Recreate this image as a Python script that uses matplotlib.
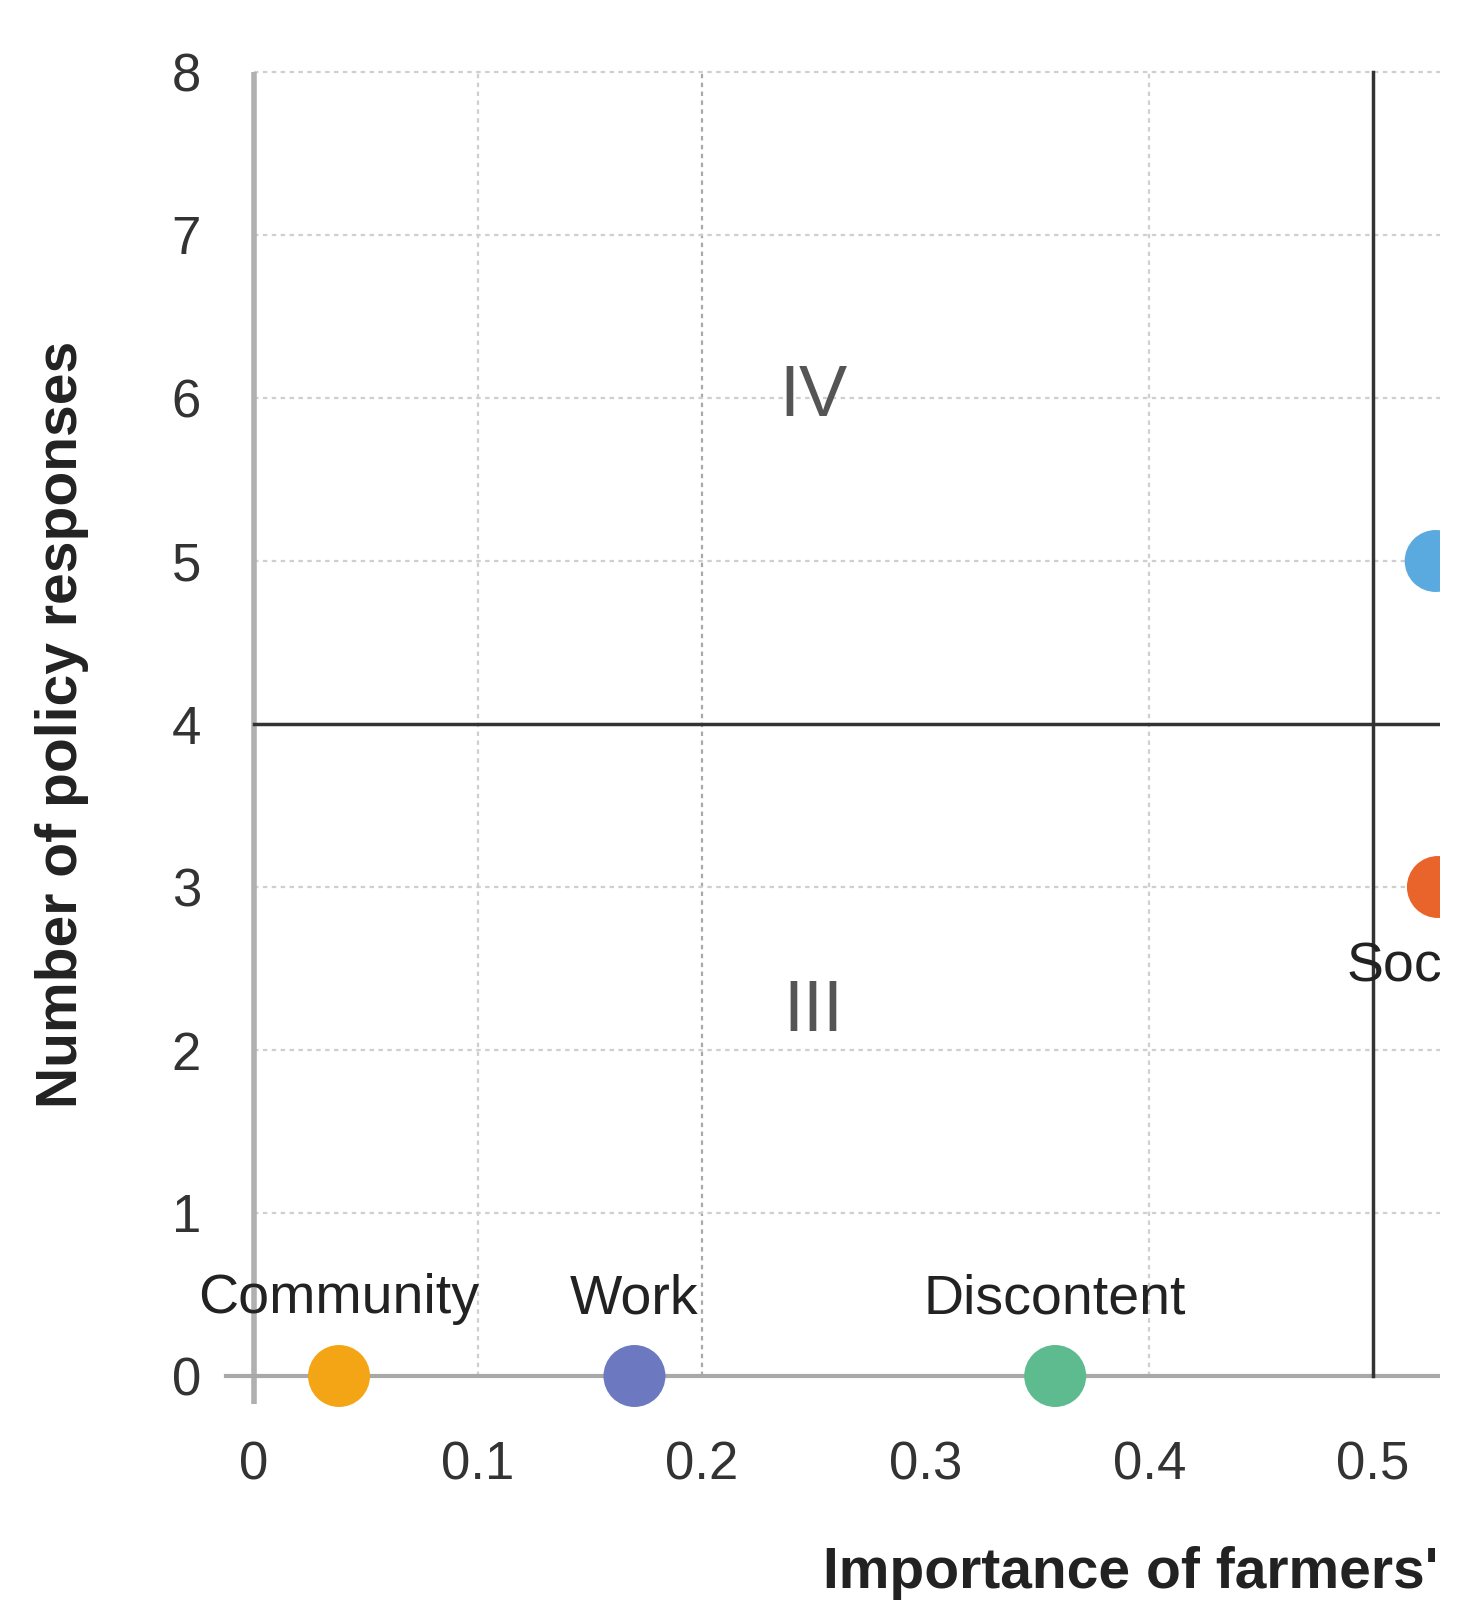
import numpy as np
import matplotlib.pyplot as plt

plt.rcParams['font.family'] = ['Liberation Sans', 'DejaVu Sans']

# data
names = ["Community", "Work", "Discontent", "", "Society"]
importance = [0.038, 0.170, 0.358, 0.528, 0.529]
responses = [0, 0, 0, 5, 3]
colors = ["#F4A516", "#6C79C0", "#5DBB8F", "#5AAAE0", "#E9642B"]
label_pos = ["above", "above", "above", "none", "below"]

x_ticks = [0, 0.1, 0.2, 0.3, 0.4, 0.5]
x_ticklabels = ["0", "0.1", "0.2", "0.3", "0.4", "0.5"]
y_ticks = [0, 1, 2, 3, 4, 5, 6, 7, 8]
x_grid = [0.1, 0.2, 0.4]
y_grid = [1, 2, 3, 5, 6, 7, 8]

W, H = 1460, 1612
fig = plt.figure(figsize=(W / 100, H / 100), dpi=100)

# x=0 at px 254, x=0.5 at px 1373, y=8 at px 72, y=0 at px 1376; picture is cut at px 1440
right_px = 1440
xmin, xmax = -0.02, (right_px - 254) / 2238
ymin, ymax = -0.25, 8.05
left_px = 254 - 0.02 * 2238
top_px = 72 - 0.05 * 163
bot_px = 1376 + 0.25 * 163
ax = fig.add_axes([left_px / W, (H - bot_px) / H, (right_px - left_px) / W, (bot_px - top_px) / H])
ax.set_xlim(xmin, xmax)
ax.set_ylim(ymin, ymax)
for s in ax.spines.values():
    s.set_visible(False)

# grid
for gx in x_grid:
    c = "#a8a8a8" if gx == 0.2 else "#cfcfcf"
    ax.plot([gx, gx], [0, 8], color=c, lw=1.6, ls=(0, (2, 2)), zorder=1)
for gy in y_grid:
    ax.plot([0, xmax], [gy, gy], color="#cfcfcf", lw=1.6, ls=(0, (2, 2)), zorder=1)

# axis lines
ax.plot([0, 0], [-0.17, 8], color="#b0b0b0", lw=4, zorder=2, solid_capstyle="butt")
ax.plot([-0.0125, xmax], [0, 0], color="#a8a8a8", lw=3, zorder=2)

# quadrant lines
ax.plot([0, xmax], [4, 4], color="#333333", lw=2.5, zorder=3)
ax.plot([0.5, 0.5], [0, 8], color="#333333", lw=2.5, zorder=3)

ax.text(0.25, 6.0, "IV", fontsize=52, color="#555555", ha="center", va="center")
ax.text(0.25, 2.23, "III", fontsize=52, color="#555555", ha="center", va="center")

# points
ax.scatter(importance, responses, s=1990, c=colors, zorder=5, linewidths=0, clip_on=True)
for n, xv, yv, p in zip(names, importance, responses, label_pos):
    if p == "above":
        ax.text(xv, yv + 0.47, n, fontsize=40, color="#222222", ha="center", va="center", zorder=6)
    elif p == "below":
        ax.text(xv, yv - 0.49, n, fontsize=40, color="#222222", ha="center", va="center",
                zorder=6, clip_on=True)

ax.set_xticks(x_ticks)
ax.set_xticklabels(x_ticklabels)
ax.set_yticks(y_ticks)
ax.tick_params(length=0, labelsize=38, labelcolor="#333333")
ax.tick_params(axis="x", pad=17)
ax.tick_params(axis="y", pad=6)

fig.text(62 / W, 1 - 724 / H, "Number of policy responses", rotation=90, fontsize=41,
         fontweight="bold", color="#222222", ha="center", va="center")
fig.text(823 / W, 1 - 1573 / H, "Importance of farmers'", fontsize=41,
         fontweight="bold", color="#222222", ha="left", va="center")

fig.savefig("out.png", dpi=100)
